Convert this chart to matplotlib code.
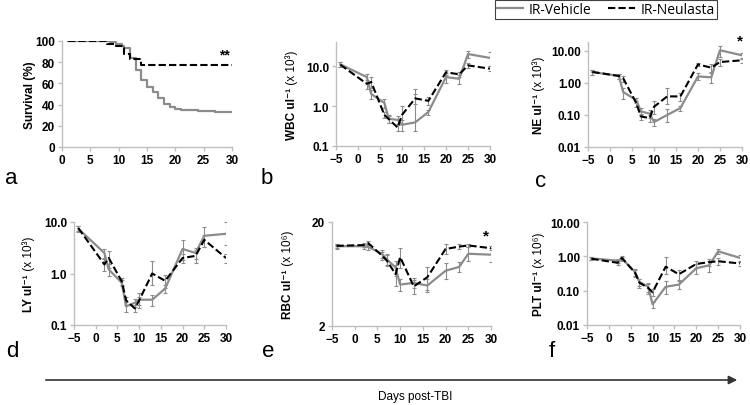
import numpy as np
import matplotlib
matplotlib.use('Agg')
import matplotlib.pyplot as plt
from matplotlib.lines import Line2D
from matplotlib.patches import FancyArrowPatch
from matplotlib.ticker import NullLocator

plt.rcParams['font.family'] = ['Liberation Sans', 'DejaVu Sans']

# survival (panel a), step curves
veh_surv_days = [1, 8.5, 9.5, 10.5, 11, 12, 13, 14, 15, 16, 17, 18, 19, 20, 21, 24, 27, 30]
veh_surv = [100, 99, 97, 95, 93, 84, 73, 63, 57, 52, 46, 41, 37.5, 36, 35, 34, 33, 33]
neu_surv_days = [1, 8, 9.5, 11, 12, 14, 30]
neu_surv = [100, 97, 95, 88, 83, 77, 77]

# blood counts, sampling days
days = [-4, 2, 3, 6, 7, 9, 10, 13, 16, 20, 23, 25, 30]

wbc_veh = [11, 5.3, 2.0, 1.2, 0.48, 0.45, 0.34, 0.39, 0.71, 5.3, 4.8, 20, 16]
wbc_veh_err = [1.5, 1.2, 0.5, 0.3, 0.1, 0.1, 0.1, 2.3, 0.1, 1.5, 1.2, 4, 6]
wbc_neu = [10.8, 3.6, 4.0, 0.6, 0.47, 0.29, 0.6, 1.55, 1.35, 7, 6.2, 10.4, 8.6]
wbc_neu_err = [1.5, 1.0, 1.2, 0.1, 0.1, 0.05, 0.4, 0.4, 0.3, 1.0, 1.0, 1.5, 1.2]

ne_veh = [2.2, 1.66, 0.52, 0.29, 0.13, 0.11, 0.06, 0.1, 0.165, 1.6, 1.5, 10.5, 7.3]
ne_veh_err = [0.4, 0.3, 0.2, 0.05, 0.03, 0.03, 0.015, 0.05, 0.03, 0.4, 0.5, 4, 1.5]
ne_neu = [2.2, 1.66, 1.4, 0.23, 0.09, 0.08, 0.18, 0.38, 0.38, 3.8, 3.0, 4.5, 5.1]
ne_neu_err = [0.4, 0.3, 0.3, 0.05, 0.02, 0.02, 0.1, 0.3, 0.1, 0.5, 0.8, 1.0, 1.0]

ly_veh = [7.4, 2.5, 1.2, 0.66, 0.23, 0.27, 0.31, 0.31, 0.51, 3.0, 2.5, 5.4, 5.9]
ly_veh_err = [1.0, 0.5, 0.3, 0.1, 0.05, 0.05, 0.1, 0.08, 0.1, 1.5, 0.6, 2.5, 4.0]
ly_neu = [7.6, 1.5, 2.0, 0.7, 0.3, 0.21, 0.3, 1.0, 0.72, 2.0, 2.2, 4.5, 2.0]
ly_neu_err = [0.8, 0.4, 0.7, 0.1, 0.05, 0.03, 0.05, 0.75, 0.2, 0.4, 0.6, 1.2, 0.4]

rbc_veh = [11.7, 11.7, 11.5, 9.9, 8.8, 7.3, 5.0, 5.2, 4.9, 6.8, 7.4, 9.9, 9.7]
rbc_veh_err = [0.6, 0.6, 0.8, 0.8, 1.0, 1.2, 0.7, 0.6, 0.7, 1.2, 0.8, 1.5, 1.5]
rbc_neu = [11.8, 12, 12.5, 9.5, 8.6, 6.3, 9.2, 4.8, 5.9, 11, 11.6, 11.9, 11.2]
rbc_neu_err = [0.6, 0.6, 0.5, 0.8, 1.0, 1.5, 2.0, 0.7, 1.5, 1.2, 0.6, 0.5, 0.5]

plt_veh = [0.87, 0.75, 0.85, 0.35, 0.18, 0.13, 0.04, 0.13, 0.15, 0.45, 0.55, 1.4, 0.9]
plt_veh_err = [0.08, 0.1, 0.1, 0.08, 0.04, 0.04, 0.008, 0.06, 0.04, 0.15, 0.2, 0.2, 0.2]
plt_neu = [0.85, 0.65, 0.9, 0.33, 0.17, 0.12, 0.09, 0.5, 0.3, 0.6, 0.68, 0.72, 0.62]
plt_neu_err = [0.08, 0.1, 0.1, 0.08, 0.05, 0.04, 0.02, 0.45, 0.1, 0.15, 0.15, 0.15, 0.1]

W, H = 750, 406
GRAY = '#8c8c8c'
SPINE = '#bfbfbf'
fig = plt.figure(figsize=(W / 100, H / 100), dpi=100)


def add_ax(l, t, r, b):
    return fig.add_axes([l / W, 1 - b / H, (r - l) / W, (b - t) / H])


def style(ax):
    for s in ['top', 'right']:
        ax.spines[s].set_visible(False)
    for s in ['left', 'bottom']:
        ax.spines[s].set_color(SPINE)
        ax.spines[s].set_linewidth(1.0)
    ax.tick_params(colors=SPINE, labelcolor='black', length=3, width=1.0,
                   labelsize=8.5, pad=2)
    for lab in ax.get_xticklabels() + ax.get_yticklabels():
        lab.set_fontweight('bold')


def counts(ax, veh, veh_err, neu, neu_err, ylim, yticks, fmt):
    for vals, err in [(veh, veh_err), (neu, neu_err)]:
        v = np.array(vals)
        e = np.array(err)
        lower = np.minimum(e, 0.4 * v)  # keep bars above zero on log axis
        ax.errorbar(days, v, yerr=[lower, e], fmt='none', ecolor=GRAY,
                    elinewidth=0.8, capsize=1.5, capthick=0.8, zorder=2)
    ax.plot(days, veh, color=GRAY, lw=1.6, zorder=3)
    ax.plot(days, neu, color='black', lw=1.5, dashes=(3.5, 1.5), zorder=4)
    ax.set_yscale('log')
    ax.set_ylim(*ylim)
    ax.set_xlim(-5, 30)
    ax.set_xticks(range(-5, 31, 5))
    ax.set_yticks(yticks)
    ax.set_yticklabels([fmt % v for v in yticks])
    ax.yaxis.set_minor_locator(NullLocator())
    style(ax)


# panel a
ax_a = add_ax(62, 42, 232, 148)
ax_a.step(veh_surv_days, veh_surv, where='post', color=GRAY, lw=1.6, zorder=3)
ax_a.step(neu_surv_days, neu_surv, where='post', color='black', lw=1.5,
          dashes=(3.5, 1.5), zorder=4)
ax_a.set_xlim(0, 30)
ax_a.set_ylim(0, 100)
ax_a.set_xticks(range(0, 31, 5))
ax_a.set_yticks(range(0, 101, 20))
style(ax_a)
ax_a.text(28.6, 81, '**', ha='center', va='bottom', fontsize=10, fontweight='bold')

ax_b = add_ax(336, 43, 490, 147)
counts(ax_b, wbc_veh, wbc_veh_err, wbc_neu, wbc_neu_err, (0.1, 40), [0.1, 1, 10], '%.1f')

ax_c = add_ax(588, 43, 742, 148)
counts(ax_c, ne_veh, ne_veh_err, ne_neu, ne_neu_err, (0.01, 19), [0.01, 0.1, 1, 10], '%.2f')
ax_c.text(29.6, 12.5, '*', ha='center', va='bottom', fontsize=11, fontweight='bold')

ax_d = add_ax(74, 223, 226, 326)
counts(ax_d, ly_veh, ly_veh_err, ly_neu, ly_neu_err, (0.1, 10), [0.1, 1, 10], '%.1f')

ax_e = add_ax(332, 223, 491, 327)
counts(ax_e, rbc_veh, rbc_veh_err, rbc_neu, rbc_neu_err, (2, 20), [2, 20], '%d')
ax_e.text(28.8, 12.6, '*', ha='center', va='bottom', fontsize=11, fontweight='bold')

ax_f = add_ax(587, 223, 740, 326)
counts(ax_f, plt_veh, plt_veh_err, plt_neu, plt_neu_err, (0.01, 10), [0.01, 0.1, 1, 10], '%.2f')

# y labels: bold name, plain unit
fig.canvas.draw()
rend = fig.canvas.get_renderer()


def ylab(ax, x_px, bold, plain=''):
    pos = ax.get_position()
    yc = (pos.y0 + pos.y1) / 2
    t1 = fig.text(x_px / W, 0, bold, rotation=90, fontsize=8.5, fontweight='bold',
                  ha='center', va='bottom')
    h1 = t1.get_window_extent(rend).height / fig.bbox.height
    h2 = 0
    t2 = None
    if plain:
        t2 = fig.text(x_px / W, 0, plain, rotation=90, fontsize=8.5,
                      ha='center', va='bottom')
        h2 = t2.get_window_extent(rend).height / fig.bbox.height
    y0 = yc - (h1 + h2) / 2
    t1.set_position((x_px / W, y0))
    if t2 is not None:
        t2.set_position((x_px / W, y0 + h1))


ylab(ax_a, 30, 'Survival (%)')
ylab(ax_b, 292, 'WBC ul\u207b\u00b9', ' (x 10\u00b3)')
ylab(ax_c, 539, 'NE ul\u207b\u00b9', ' (x 10\u00b3)')
ylab(ax_d, 29, 'LY ul\u207b\u00b9', ' (x 10\u00b3)')
ylab(ax_e, 288, 'RBC ul\u207b\u00b9', ' (x 10\u2076)')
ylab(ax_f, 539, 'PLT ul\u207b\u00b9', ' (x 10\u2076)')

# panel letters
for letter, x, y in [('a', 5, 184), ('b', 261, 184), ('c', 535, 187),
                     ('d', 6, 357), ('e', 262, 357), ('f', 549, 357)]:
    fig.text(x / W, 1 - y / H, letter, fontsize=16, ha='left', va='baseline')

# legend
handles = [Line2D([], [], color=GRAY, lw=1.6),
           Line2D([], [], color='black', lw=1.5, dashes=(3.5, 1.5))]
leg = fig.legend(handles, ['IR-Vehicle', 'IR-Neulasta'], loc='upper left',
                 bbox_to_anchor=(495 / W, 1 - 1 / H), bbox_transform=fig.transFigure,
                 ncol=2, frameon=True, fancybox=False, framealpha=1,
                 edgecolor='#404040', prop={'family': 'Open Sans', 'size': 10},
                 handlelength=1.9, handletextpad=0.4, columnspacing=1.2,
                 borderpad=0.15, borderaxespad=0)
leg.get_frame().set_linewidth(0.8)

# time arrow
fig.add_artist(FancyArrowPatch(
    (43 / W, 1 - 381 / H), (740 / W, 1 - 381 / H), transform=fig.transFigure,
    arrowstyle='-|>,head_length=5,head_width=2.5', color='#333333', lw=1.2,
    mutation_scale=1))
fig.text(415 / W, 1 - 397 / H, 'Days post-TBI', fontsize=8.5, ha='center', va='center')

fig.savefig('out.png', dpi=100)
